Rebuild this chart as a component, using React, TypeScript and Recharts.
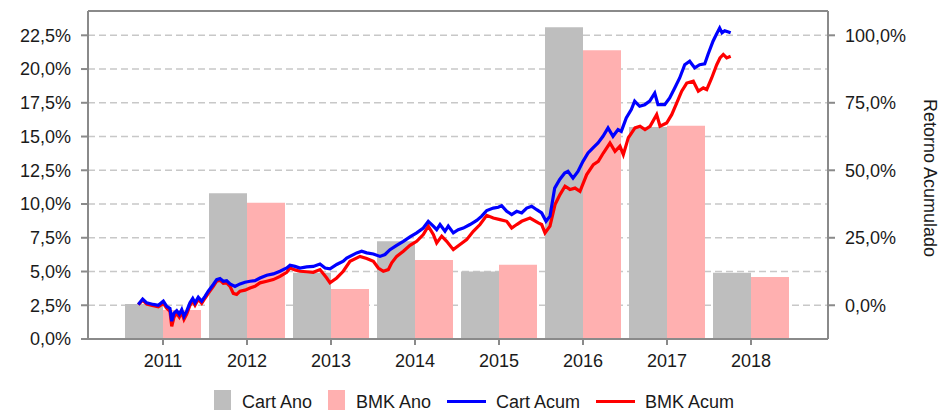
import React from 'react';
import {
  ComposedChart,
  Bar,
  Line,
  XAxis,
  YAxis,
  CartesianGrid,
  Legend,
  ReferenceLine,
} from 'recharts';

// ---- data ----
const years = ['2011', '2012', '2013', '2014', '2015', '2016', '2017', '2018'];
const cartAno = [2.6, 10.8, 4.9, 7.25, 5.0, 23.1, 15.7, 4.9];
const bmkAno = [2.15, 10.1, 3.7, 5.85, 5.5, 21.4, 15.8, 4.6];

const leftTicks = [0, 2.5, 5, 7.5, 10, 12.5, 15, 17.5, 20, 22.5];
const rightTicks = [0, 25, 50, 75, 100];

// cumulative return series: [time (decimal year, on the year-tick scale), cumulative %]
const cartAcum: [number, number][] = [
  [2010.706, 0.3], [2010.758, 2.3], [2010.806, 0.9], [2010.885, 0.3], [2010.944, 0],
  [2011.004, 1.5], [2011.044, -0.4], [2011.083, -1.2], [2011.104, -5.9], [2011.131, -2.9],
  [2011.163, -2.0], [2011.194, -3.4], [2011.223, -1.6], [2011.25, -4.1], [2011.282, -2.2],
  [2011.321, 0.9], [2011.354, 2.5], [2011.381, 0.9], [2011.42, 3.0], [2011.461, 1.5],
  [2011.5, 3.3], [2011.539, 5.2], [2011.599, 7.7], [2011.639, 9.5], [2011.679, 9.9],
  [2011.718, 8.9], [2011.758, 9.1], [2011.798, 7.9], [2011.857, 7.0], [2011.917, 7.9],
  [2011.976, 8.5], [2012.036, 8.9], [2012.095, 9.1], [2012.155, 10.1], [2012.235, 11.1],
  [2012.313, 11.6], [2012.393, 12.6], [2012.473, 13.8], [2012.512, 14.8], [2012.571, 14.4],
  [2012.631, 13.8], [2012.711, 14.2], [2012.789, 14.4], [2012.869, 15.3], [2012.929, 13.8],
  [2012.988, 13.5], [2013.068, 15.1], [2013.146, 16.3], [2013.187, 17.5], [2013.306, 19.4],
  [2013.365, 20.0], [2013.425, 19.4], [2013.504, 19.0], [2013.583, 18.1], [2013.643, 18.8],
  [2013.702, 20.6], [2013.782, 22.2], [2013.861, 23.7], [2013.94, 25.3], [2014.02, 26.8],
  [2014.099, 28.6], [2014.158, 31.1], [2014.218, 29.3], [2014.258, 28.0], [2014.298, 29.9],
  [2014.357, 27.4], [2014.396, 29.3], [2014.456, 26.8], [2014.515, 28.0], [2014.575, 28.6],
  [2014.655, 29.9], [2014.735, 31.4], [2014.794, 33.0], [2014.854, 35.1], [2014.932, 36.0],
  [2014.992, 36.3], [2015.032, 36.9], [2015.092, 34.8], [2015.151, 33.6], [2015.211, 34.8],
  [2015.27, 34.2], [2015.33, 36.0], [2015.389, 36.7], [2015.449, 35.4], [2015.508, 34.2],
  [2015.56, 31.1], [2015.607, 33.0], [2015.663, 43.4], [2015.723, 46.6], [2015.782, 49.0],
  [2015.821, 49.6], [2015.881, 47.1], [2015.94, 49.6], [2016.0, 53.3], [2016.06, 56.4],
  [2016.119, 58.3], [2016.179, 60.1], [2016.238, 62.6], [2016.298, 65.7], [2016.357, 62.6],
  [2016.417, 65.1], [2016.456, 64.4], [2016.515, 69.4], [2016.575, 72.5], [2016.615, 75.6],
  [2016.674, 73.7], [2016.735, 74.3], [2016.794, 75.6], [2016.854, 78.6], [2016.893, 74.3],
  [2016.973, 74.3], [2017.032, 76.8], [2017.092, 80.5], [2017.151, 84.2], [2017.211, 89.1],
  [2017.27, 90.4], [2017.33, 87.9], [2017.389, 89.1], [2017.449, 89.4], [2017.488, 92.9],
  [2017.548, 97.8], [2017.587, 100.3], [2017.627, 102.7], [2017.655, 100.9], [2017.687, 101.7],
  [2017.758, 100.9],
];

const bmkAcum: [number, number][] = [
  [2010.706, 0.2], [2010.758, 1.9], [2010.806, 0.4], [2010.885, -0.2], [2010.944, -0.6],
  [2011.004, 0.7], [2011.044, -1.1], [2011.083, -2.2], [2011.104, -7.8], [2011.131, -4.4],
  [2011.163, -3.0], [2011.194, -4.4], [2011.223, -2.6], [2011.25, -5.2], [2011.282, -3.3],
  [2011.321, 0], [2011.354, 1.5], [2011.381, 0], [2011.42, 2.2], [2011.461, 0.7],
  [2011.5, 2.6], [2011.539, 4.4], [2011.599, 7.0], [2011.639, 8.9], [2011.679, 9.3],
  [2011.718, 8.1], [2011.758, 8.3], [2011.798, 7.0], [2011.837, 4.4], [2011.877, 4.0],
  [2011.917, 5.2], [2011.976, 5.6], [2012.036, 6.4], [2012.095, 7.0], [2012.155, 8.3],
  [2012.235, 8.9], [2012.313, 9.5], [2012.393, 10.7], [2012.473, 12.2], [2012.512, 13.8],
  [2012.571, 13.1], [2012.631, 12.6], [2012.711, 12.4], [2012.789, 12.2], [2012.869, 13.2],
  [2012.949, 10.1], [2012.988, 8.3], [2013.068, 10.1], [2013.146, 12.6], [2013.226, 16.3],
  [2013.345, 18.1], [2013.425, 17.3], [2013.504, 16.3], [2013.563, 13.8], [2013.623, 12.6],
  [2013.682, 13.2], [2013.723, 15.7], [2013.782, 18.1], [2013.861, 20.0], [2013.94, 22.2],
  [2014.02, 23.7], [2014.099, 26.2], [2014.158, 29.3], [2014.218, 26.2], [2014.258, 23.1],
  [2014.318, 25.6], [2014.377, 23.7], [2014.456, 20.6], [2014.536, 22.5], [2014.615, 24.3],
  [2014.694, 27.4], [2014.774, 29.9], [2014.854, 33.3], [2014.932, 32.3], [2015.012, 31.7],
  [2015.092, 31.1], [2015.151, 28.6], [2015.211, 29.9], [2015.27, 31.1], [2015.369, 32.3],
  [2015.468, 30.5], [2015.508, 29.9], [2015.548, 26.8], [2015.607, 29.3], [2015.667, 37.3],
  [2015.726, 41.0], [2015.786, 44.1], [2015.845, 42.9], [2015.905, 43.4], [2015.964, 42.2],
  [2016.044, 48.4], [2016.123, 52.1], [2016.182, 53.3], [2016.242, 56.4], [2016.321, 60.1],
  [2016.381, 57.0], [2016.44, 58.9], [2016.48, 55.8], [2016.539, 62.0], [2016.619, 65.7],
  [2016.679, 66.3], [2016.738, 65.1], [2016.798, 66.3], [2016.877, 70.6], [2016.917, 66.3],
  [2016.996, 67.5], [2017.056, 70.6], [2017.115, 74.9], [2017.175, 79.3], [2017.235, 82.3],
  [2017.313, 83.0], [2017.373, 79.3], [2017.432, 80.5], [2017.473, 79.9], [2017.532, 84.2],
  [2017.592, 89.1], [2017.631, 91.6], [2017.67, 92.9], [2017.711, 91.6], [2017.758, 92.2],
];

const seriesNames = ['Cart Ano', 'BMK Ano', 'Cart Acum', 'BMK Acum'];
const seriesColors = ['#bebebe', '#ffb0b0', '#0000ff', '#ff0000'];

// ---- derived tables ----
const barData = years.map((y, i) => ({ year: y, cart: cartAno[i], bmk: bmkAno[i] }));
const cartLine = cartAcum.map(([t, v]) => ({ t, v }));
const bmkLine = bmkAcum.map(([t, v]) => ({ t, v }));

const FONT = '"Liberation Sans", Arial, Helvetica, sans-serif';
const AXIS = '#8a8a8a';
const TEXT = '#1a1a1a';

const fmtPct = (v: number) => v.toFixed(1).replace('.', ',') + '%';

const renderLegend = () => (
  <div
    style={{
      width: 941,
      height: 30,
      display: 'flex',
      justifyContent: 'center',
      paddingLeft: 7,
      boxSizing: 'border-box',
      fontFamily: FONT,
      fontSize: 18,
      color: TEXT,
      overflow: 'hidden',
    }}
  >
    {seriesNames.map((name, i) => (
      <div key={name} style={{ display: 'flex', alignItems: 'flex-start', marginRight: i < 3 ? 16 : 0 }}>
        {i < 2 ? (
          <div style={{ width: 17, height: 20, marginTop: 10, background: seriesColors[i] }} />
        ) : (
          <div style={{ width: 39, height: 3, marginTop: 20, background: seriesColors[i] }} />
        )}
        <div style={{ marginLeft: i < 2 ? 11 : 10, marginTop: 13.5, lineHeight: '16px', whiteSpace: 'nowrap' }}>
          {name}
        </div>
      </div>
    ))}
  </div>
);

const renderRightTitle = (props: any) => {
  const vb = props.viewBox || { x: 828, y: 11, width: 113, height: 328 };
  const x = vb.x + 102;
  const y = vb.y + vb.height / 2 + 3;
  return (
    <text
      x={x}
      y={y}
      transform={`rotate(90 ${x} ${y})`}
      textAnchor="middle"
      dominantBaseline="central"
      fontFamily={FONT}
      fontSize={18}
      fill={TEXT}
    >
      Retorno Acumulado
    </text>
  );
};

const tickStyle = { fontFamily: FONT, fontSize: 18, fill: TEXT };

export default function App() {
  return (
    <div style={{ position: 'absolute', left: 0, top: 0, width: 941, height: 410, background: '#fff' }}>
      <ComposedChart
        width={941}
        height={410}
        data={barData}
        margin={{ top: 11, right: 0, bottom: 0, left: 0 }}
        barCategoryGap={4}
        barGap={0}
        style={{ fontFamily: FONT }}
      >
        <CartesianGrid
          xAxisId="cat"
          yAxisId="left"
          vertical={false}
          stroke="#c8c8c8"
          strokeWidth={1.5}
          strokeDasharray="7 4"
        />
        <XAxis
          xAxisId="cat"
          dataKey="year"
          type="category"
          padding={{ left: 33, right: 35 }}
          height={41}
          axisLine={{ stroke: AXIS, strokeWidth: 2 }}
          tickLine={{ stroke: AXIS, strokeWidth: 2 }}
          tickSize={6}
          tickMargin={9}
          tick={tickStyle}
          interval={0}
        />
        <XAxis
          xAxisId="time"
          dataKey="t"
          type="number"
          domain={[2011 - 75 / 84, 2011 - 75 / 84 + 740 / 84]}
          allowDataOverflow
          hide
        />
        <YAxis
          yAxisId="left"
          orientation="left"
          width={88}
          domain={[0, 24.3]}
          ticks={leftTicks}
          tickFormatter={fmtPct}
          allowDataOverflow
          axisLine={{ stroke: AXIS, strokeWidth: 2 }}
          tickLine={{ stroke: AXIS, strokeWidth: 2 }}
          tickSize={7}
          tickMargin={10}
          tick={tickStyle}
          interval={0}
        />
        <YAxis
          yAxisId="right"
          orientation="right"
          width={113}
          domain={[-12.5, 109]}
          ticks={rightTicks}
          tickFormatter={fmtPct}
          allowDataOverflow
          axisLine={{ stroke: AXIS, strokeWidth: 2 }}
          tickLine={{ stroke: AXIS, strokeWidth: 2 }}
          tickSize={7}
          tickMargin={10}
          tick={tickStyle}
          interval={0}
          label={{ value: 'Retorno Acumulado', content: renderRightTitle }}
        />
        <ReferenceLine xAxisId="cat" yAxisId="left" y={24.3} stroke={AXIS} strokeWidth={2} />
        <Bar xAxisId="cat" yAxisId="left" dataKey="cart" name={seriesNames[0]} fill={seriesColors[0]} isAnimationActive={false} />
        <Bar xAxisId="cat" yAxisId="left" dataKey="bmk" name={seriesNames[1]} fill={seriesColors[1]} isAnimationActive={false} />
        <Line
          xAxisId="time"
          yAxisId="right"
          data={bmkLine}
          dataKey="v"
          name={seriesNames[3]}
          stroke={seriesColors[3]}
          strokeWidth={3.2}
          dot={false}
          type="linear"
          isAnimationActive={false}
        />
        <Line
          xAxisId="time"
          yAxisId="right"
          data={cartLine}
          dataKey="v"
          name={seriesNames[2]}
          stroke={seriesColors[2]}
          strokeWidth={3.2}
          dot={false}
          type="linear"
          isAnimationActive={false}
        />
        <Legend verticalAlign="bottom" content={renderLegend} wrapperStyle={{ left: 0, width: 941, height: 30 }} />
      </ComposedChart>
    </div>
  );
}
